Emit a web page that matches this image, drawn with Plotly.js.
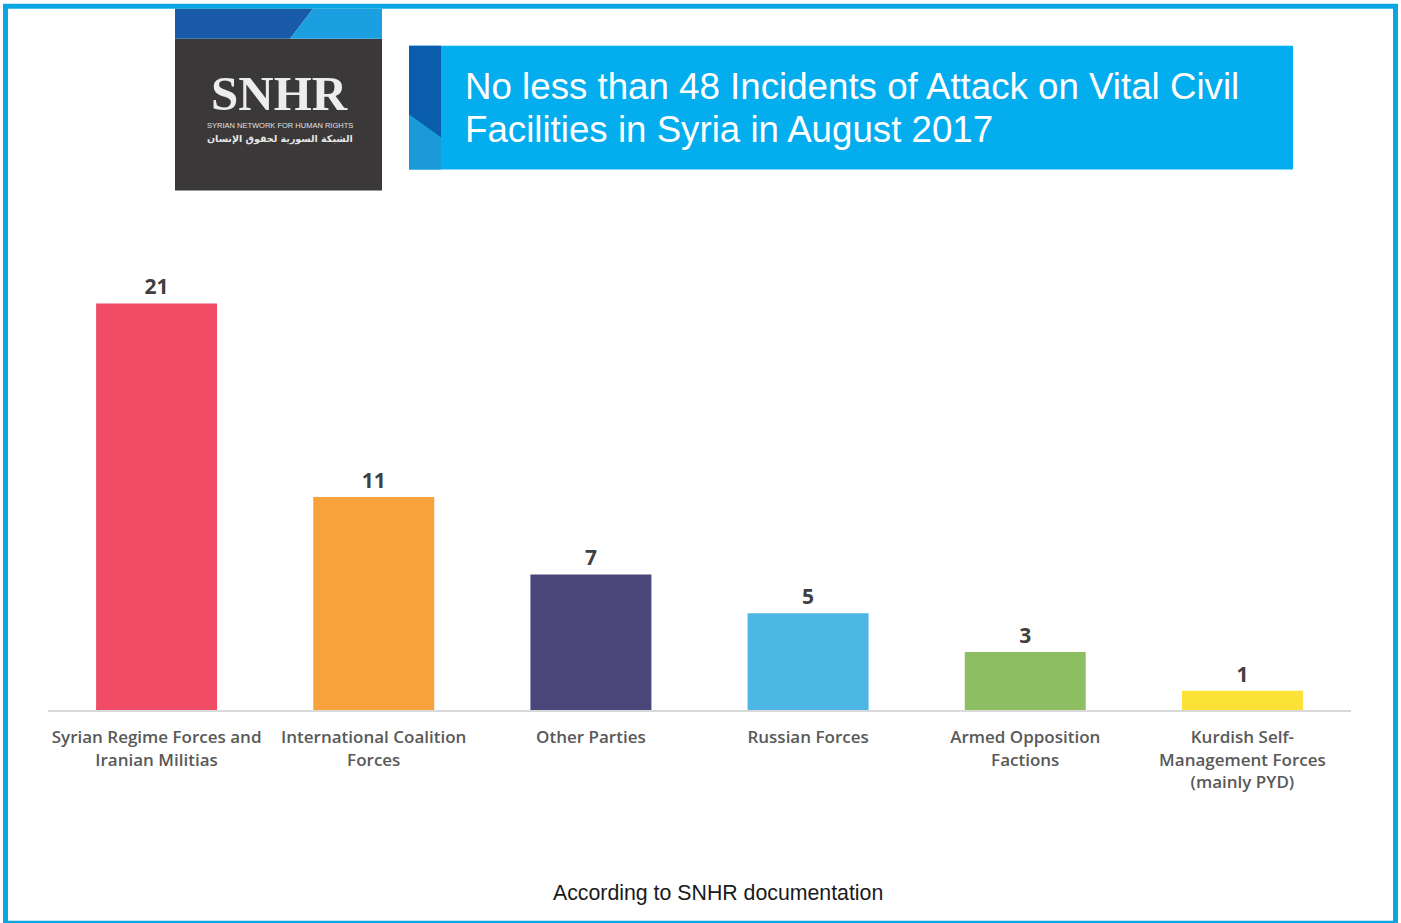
<!DOCTYPE html>
<html>
<head>
<meta charset="utf-8">
<script src="https://cdn.plot.ly/plotly-3.0.1.min.js"></script>
<style>
html,body{margin:0;padding:0;background:#fff;}
#chart{width:1401px;height:923px;}
</style>
</head>
<body>
<div id="chart"></div>
<script>
// ---- data ----
const categories = [
  "Syrian Regime Forces and<br>Iranian Militias",
  "International Coalition<br>Forces",
  "Other Parties",
  "Russian Forces",
  "Armed Opposition<br>Factions",
  "Kurdish Self-<br>Management Forces<br>(mainly PYD)"
];
const values = [21, 11, 7, 5, 3, 1];
const barColors = ["#F04C66", "#F8A23B", "#4A4679", "#4CB7E5", "#8DBF62", "#FCE136"];
const titleLines = ["No less than 48 Incidents of Attack on Vital Civil", "Facilities in Syria in August 2017"];
const footer = "According to SNHR documentation";

// ---- layout helpers (pixel -> paper) ----
const W = 1401, H = 923;
const mL = 48, mR = 50, mT = 225.5, mB = 213;
const pw = W - mL - mR, ph = H - mT - mB;
const px = x => (x - mL) / pw;
const py = y => (H - mB - y) / ph;

function rect(x0, y0, x1, y1, fill, line) {
  return {type: 'rect', xref: 'paper', yref: 'paper', layer: 'above',
    x0: px(x0), x1: px(x1), y0: py(y1), y1: py(y0),
    fillcolor: fill || 'rgba(0,0,0,0)',
    line: line || {width: 0}};
}
function poly(points, fill) {
  const d = points.map((p, i) => (i ? 'L' : 'M') + px(p[0]) + ',' + py(p[1])).join(' ') + ' Z';
  return {type: 'path', xref: 'paper', yref: 'paper', path: d, fillcolor: fill, line: {width: 0}, layer: 'above'};
}

const shapes = [
  // outer frame
  rect(5.5, 5.5, 1395.5, 923.5, null, {color: '#0AA6E4', width: 5}),
  // title banner
  rect(409, 45, 1293, 169, '#03ADEE'),
  poly([[409,45],[441,45],[441,137],[409,114]], '#0A5CAC'),
  poly([[409,114],[441,137],[441,169],[409,169]], '#1A9AD6'),
  // logo
  rect(175, 38, 382, 190, '#3A3838'),
  poly([[175,8],[313,8],[290,38],[175,38]], '#1A5BA9'),
  poly([[313,8],[382,8],[382,38],[290,38]], '#1C9FE0')
];

const annotations = [
  {text: titleLines[0], x: px(463), y: py(86), xanchor: 'left', yanchor: 'middle',
   font: {family: 'Liberation Sans, Arial, sans-serif', size: 36.7, color: '#FFFFFF'}},
  {text: titleLines[1], x: px(463), y: py(129), xanchor: 'left', yanchor: 'middle',
   font: {family: 'Liberation Sans, Arial, sans-serif', size: 36.7, color: '#FFFFFF'}},
  {text: 'SNHR', x: px(279), y: py(93), xanchor: 'center', yanchor: 'middle',
   font: {family: 'Liberation Serif, serif', size: 49, color: '#EDEDED', weight: 700}},
  {text: 'SYRIAN NETWORK FOR HUMAN RIGHTS', x: px(280), y: py(125), xanchor: 'center', yanchor: 'middle',
   font: {family: 'Liberation Sans Narrow, Liberation Sans, Arial, sans-serif', size: 7.5, color: '#E0E0E0'}},
  {text: 'الشبكة السورية لحقوق الإنسان', x: px(280), y: py(138), xanchor: 'center', yanchor: 'middle',
   font: {family: 'DejaVu Sans, Noto Sans, sans-serif', size: 9.5, color: '#E6E6E6', weight: 700}},
  {text: footer, x: px(718), y: py(893), xanchor: 'center', yanchor: 'middle',
   font: {family: 'Liberation Sans, Arial, sans-serif', size: 21.3, color: '#1A1A1A'}}
].map(a => Object.assign({xref: 'paper', yref: 'paper', showarrow: false}, a));

const trace = {
  type: 'bar',
  x: categories,
  y: values,
  marker: {color: barColors},
  text: values.map(String),
  textposition: 'outside',
  cliponaxis: false,
  textfont: {family: 'Open Sans, sans-serif', size: 21, color: '#404040', weight: 700},
  hoverinfo: 'none'
};

const layout = {
  width: W, height: H,
  margin: {l: mL, r: mR, t: mT, b: mB, pad: 0},
  paper_bgcolor: '#FFFFFF',
  plot_bgcolor: '#FFFFFF',
  showlegend: false,
  bargap: 0.443,
  xaxis: {
    type: 'category',
    showgrid: false,
    showline: true,
    linecolor: '#D9D9D9',
    linewidth: 2,
    ticks: '',
    ticklabelstandoff: 11,
    tickfont: {family: 'Open Sans, sans-serif', size: 17, color: '#595959', weight: 600},
    fixedrange: true
  },
  yaxis: {
    range: [0, 25],
    visible: false,
    showgrid: false,
    zeroline: false,
    fixedrange: true
  },
  shapes: shapes,
  annotations: annotations
};

Plotly.newPlot('chart', [trace], layout, {displayModeBar: false, staticPlot: true});
</script>
</body>
</html>
